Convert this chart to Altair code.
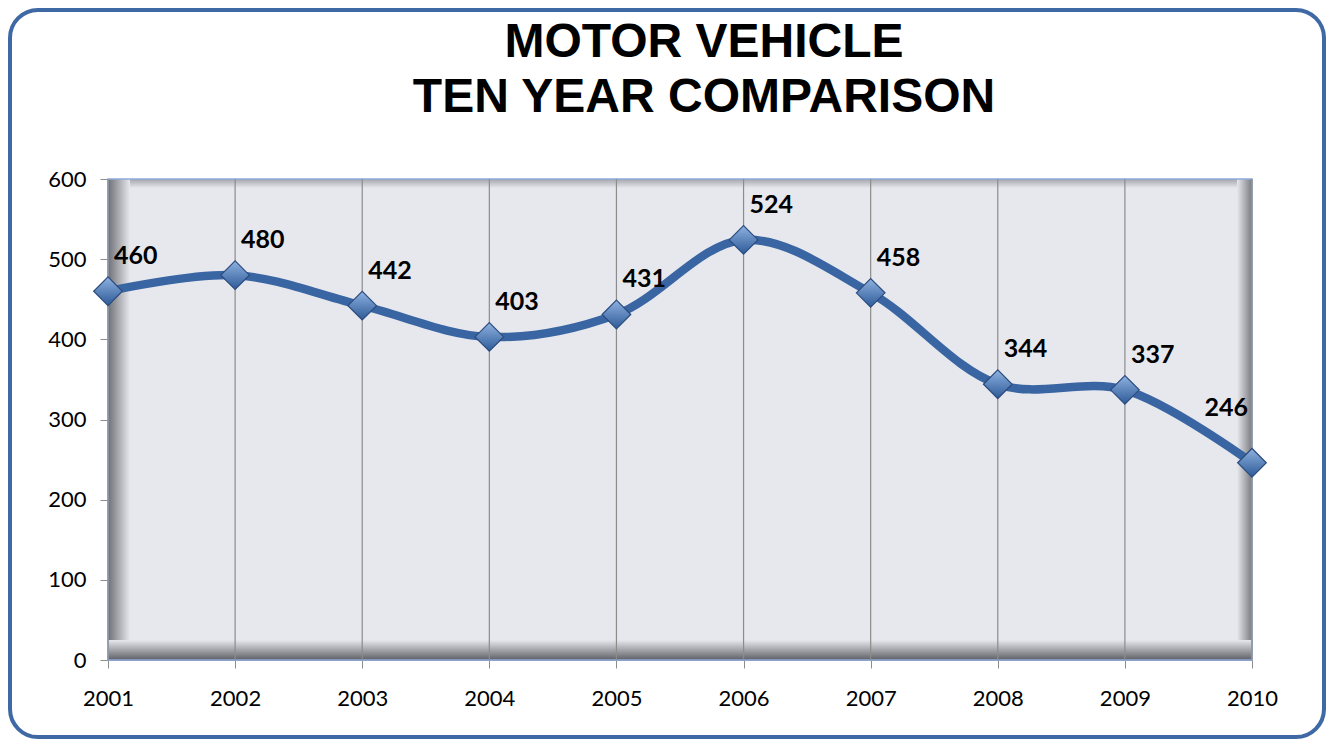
import altair as alt
import pandas as pd

years = [2001, 2002, 2003, 2004, 2005, 2006, 2007, 2008, 2009, 2010]
values = [460, 480, 442, 403, 431, 524, 458, 344, 337, 246]
y_ticks = [0, 100, 200, 300, 400, 500, 600]
title_lines = ["MOTOR VEHICLE", "TEN YEAR COMPARISON"]

W, H = 1144, 481
PAD_L, PAD_T, PAD_R, PAD_B = 100, 171, 74, 80
BG = "#e7e8ed"

df = pd.DataFrame({"year": years, "value": values})
one = alt.Data(values=[{}])


def grad(c0, c1, horizontal=True):
    return alt.LinearGradient(
        gradient="linear",
        stops=[alt.GradientStop(color=c0, offset=0), alt.GradientStop(color=c1, offset=1)],
        x1=0, x2=1 if horizontal else 0, y1=0, y2=0 if horizontal else 1,
    )


xenc = alt.X(
    "year:Q",
    scale=alt.Scale(domain=[2001, 2010], nice=False, zero=False),
    axis=alt.Axis(values=years, format="d", title=None, grid=False,
                  labelFont="Lato", labelFontSize=22, labelColor="black",
                  labelPadding=20, tickColor="#8c8c8c", tickSize=8,
                  domainColor="#8c8c8c", labelFlush=False),
)
yenc = alt.Y(
    "value:Q",
    scale=alt.Scale(domain=[0, 600], nice=False),
    axis=alt.Axis(values=y_ticks, title=None, grid=False,
                  labelFont="Lato", labelFontSize=22, labelColor="black",
                  labelPadding=14, tickColor="#8c8c8c", tickSize=8,
                  domainColor="#8c8c8c"),
)

border = alt.Chart(one).mark_rect(
    fill="transparent", stroke="#3f69a5", strokeWidth=4, cornerRadius=28, clip=False
).encode(x=alt.value(-98), x2=alt.value(W + 72), y=alt.value(-169), y2=alt.value(H + 77))

bg = alt.Chart(one).mark_rect(fill=BG).encode(
    x=alt.value(0), x2=alt.value(W), y=alt.value(0), y2=alt.value(H))
shade_top = alt.Chart(one).mark_rect(fill=grad("#a4a5ab", BG, False)).encode(
    x=alt.value(0), x2=alt.value(W), y=alt.value(0), y2=alt.value(9))
shade_left = alt.Chart(one).mark_rect(fill=grad("#6f7075", BG, True)).encode(
    x=alt.value(0), x2=alt.value(22), y=alt.value(0), y2=alt.value(H))
shade_right = alt.Chart(one).mark_rect(fill=grad(BG, "#7a7b80", True)).encode(
    x=alt.value(W - 15), x2=alt.value(W), y=alt.value(0), y2=alt.value(H))
shade_bottom = alt.Chart(one).mark_rect(fill=grad(BG, "#5f6065", False)).encode(
    x=alt.value(0), x2=alt.value(W), y=alt.value(H - 20), y2=alt.value(H))
edge = alt.Chart(one).mark_rect(fill="transparent", stroke="#8eaadb", strokeWidth=1.5).encode(
    x=alt.value(0), x2=alt.value(W), y=alt.value(0), y2=alt.value(H))

base = alt.Chart(df)
grid = base.mark_rule(color="#8c8c8c", strokeWidth=1.2).encode(
    x=xenc, y=alt.value(0), y2=alt.value(H))
line = base.mark_line(interpolate="catmull-rom", color="#3a65a3", strokeWidth=8.5).encode(
    x=xenc, y=yenc)
points = base.mark_point(
    shape="diamond", size=820, filled=True, opacity=1,
    fill=grad("#8fb2e0", "#2d5a98", False), stroke="#2b4c7e", strokeWidth=1.2,
).encode(x=xenc, y=yenc)
labels_main = base.transform_filter(alt.datum.year < 2010).mark_text(
    align="left", baseline="middle", dx=6, dy=-35,
    font="Lato", fontSize=25, fontWeight="bold", color="black",
).encode(x=xenc, y=yenc, text="value:Q")
labels_last = base.transform_filter(alt.datum.year == 2010).mark_text(
    align="right", baseline="middle", dx=-4, dy=-55,
    font="Lato", fontSize=25, fontWeight="bold", color="black",
).encode(x=xenc, y=yenc, text="value:Q")

chart = alt.layer(
    bg, shade_top, shade_left, shade_right, shade_bottom, edge,
    grid, line, points, labels_main, labels_last, border,
).properties(
    width=W, height=H,
    title=alt.TitleParams(
        text=title_lines, font="Liberation Sans", fontSize=48, fontWeight="bold",
        color="black", lineHeight=55, anchor="middle", dx=24, offset=56, dy=170,
    ),
    autosize=alt.AutoSizeParams(type="none"),
    padding={"left": PAD_L, "top": PAD_T, "right": PAD_R, "bottom": PAD_B},
).configure_view(stroke=None).configure(background="white")

chart.save("out.html", embed_options={"renderer": "svg", "actions": False})
